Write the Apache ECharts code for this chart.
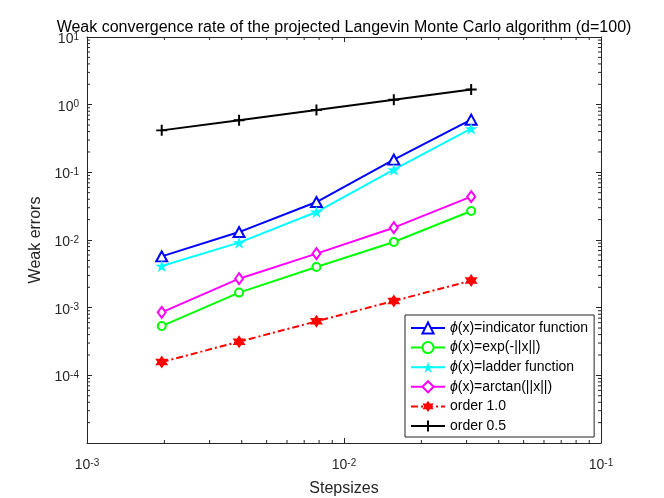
<!DOCTYPE html>
<html>
<head>
<meta charset="utf-8">
<script src="https://cdn.jsdelivr.net/npm/echarts/dist/echarts.min.js"></script>
<style>
  html, body { margin: 0; padding: 0; background: #fff; }
  #main { width: 664px; height: 498px; }
</style>
</head>
<body>
<div id="main"></div>
<script>
// step sizes h = 2^-9 ... 2^-5
const stepsizes = [0.001953125, 0.00390625, 0.0078125, 0.015625, 0.03125];

// weak errors
const indicatorErr = [5.73e-3, 1.31e-2, 3.64e-2, 0.154, 0.600];
const expErr = [5.35e-4, 1.67e-3, 3.98e-3, 9.33e-3, 2.68e-2];
const ladderErr = [4.12e-3, 9.14e-3, 2.59e-2, 0.1095, 0.442];
const arctanErr = [8.53e-4, 2.68e-3, 6.28e-3, 1.52e-2, 4.37e-2];
const order1 = [1.57e-4, 3.14e-4, 6.28e-4, 1.256e-3, 2.51e-3];
const order05 = [0.417, 0.59, 0.834, 1.18, 1.67];

const seriesNames = [
  'ϕ(x)=indicator function',
  'ϕ(x)=exp(-||x||)',
  'ϕ(x)=ladder function',
  'ϕ(x)=arctan(||x||)',
  'order 1.0',
  'order 0.5'
];

// axis ranges (decades)
const xMin = 1e-3, xMax = 1e-1;
const yMin = 1e-5, yMax = 1e1;
const minorMult = [2, 3, 4, 5, 6, 7, 8, 9];

const axisColor = '#262626';
const font = '"Liberation Sans", Arial, Helvetica, sans-serif';

// star shaped symbols
function starPath(n, inner) {
  let d = '';
  for (let i = 0; i < 2 * n; i++) {
    const r = i % 2 === 0 ? 1 : inner;
    const a = -Math.PI / 2 + i * Math.PI / n;
    d += (i === 0 ? 'M' : 'L') + (r * Math.cos(a)).toFixed(3) + ',' + (r * Math.sin(a)).toFixed(3);
  }
  return 'path://' + d + 'Z';
}
const pentagram = starPath(5, 0.382);
const hexagram = starPath(6, 0.577);
const plusSym = 'path://M-0.18,-1L0.18,-1L0.18,-0.18L1,-0.18L1,0.18L0.18,0.18L0.18,1L-0.18,1L-0.18,0.18L-1,0.18L-1,-0.18L-0.18,-0.18Z';

function pairs(ys) {
  return stepsizes.map((x, i) => [x, ys[i]]);
}

// minor tick positions inside each decade
function minorValues(lo, hi) {
  const out = [];
  for (let e = Math.round(Math.log10(lo)); e < Math.round(Math.log10(hi)); e++) {
    minorMult.forEach(m => out.push(m * Math.pow(10, e)));
  }
  return out;
}
const minorData = []
minorValues(yMin, yMax).forEach(v => minorData.push([xMin, v, 0]));
minorValues(xMin, xMax).forEach(v => minorData.push([v, yMin, 1]));

function powLabel(value) {
  const e = Math.round(Math.log10(value));
  if (value < 2e-5) return '';
  return '{b|10}{s|' + e + '}';
}
const powRich = {
  b: { fontSize: 14, lineHeight: 14, padding: [3, 0, 0, 0], verticalAlign: 'bottom', color: axisColor, fontFamily: font },
  s: { fontSize: 10, lineHeight: 10, verticalAlign: 'top', color: axisColor, fontFamily: font }
};

let myChart = echarts.init(document.getElementById('main'));

const baseSeries = {
  type: 'line',
  xAxisIndex: 0,
  yAxisIndex: 0,
  lineStyle: { width: 2 },
  animation: false
};

const option = {
  animation: false,
  backgroundColor: '#fff',
  title: {
    text: 'Weak convergence rate of the projected Langevin Monte Carlo algorithm (d=100)',
    left: 339,
    top: 15,
    textAlign: 'center',
    textStyle: { fontSize: 16, fontWeight: 'normal', color: '#000', fontFamily: font }
  },
  grid: { left: 87, right: 63, top: 37, bottom: 55, outerBoundsMode: 'none', containLabel: false },
  legend: {
    data: seriesNames,
    orient: 'vertical',
    left: 405,
    top: 315,
    width: 189,
    padding: [6, 6, 4, 5],
    itemWidth: 34,
    itemHeight: 14,
    itemGap: 5.6,
    backgroundColor: '#fff',
    borderColor: axisColor,
    borderWidth: 1,
    textStyle: {
      fontSize: 14, lineHeight: 14, color: '#000', fontFamily: font,
      rich: { p: { fontSize: 14, lineHeight: 14, fontStyle: 'italic', fontFamily: font } }
    },
    formatter: n => n.charAt(0) === 'ϕ' ? '{p|ϕ}' + n.slice(1) : n
  },
  xAxis: [
    {
      type: 'log', logBase: 10, min: xMin, max: xMax,
      name: 'Stepsizes', nameLocation: 'middle', nameGap: 38,
      nameTextStyle: { fontSize: 16, color: axisColor, fontFamily: font },
      axisLine: { lineStyle: { color: axisColor, width: 1 } },
      axisTick: { inside: true, length: 5, lineStyle: { color: axisColor } },
      axisLabel: { formatter: powLabel, rich: powRich, margin: 11, padding: [4, 0, 0, 0] },
      splitLine: { show: false }
    },
    {
      type: 'log', logBase: 10, min: xMin, max: xMax, position: 'top',
      axisLine: { lineStyle: { color: axisColor, width: 1 } },
      axisTick: { inside: true, length: 5, lineStyle: { color: axisColor } },
      axisLabel: { show: false },
      splitLine: { show: false }
    }
  ],
  yAxis: [
    {
      type: 'log', logBase: 10, min: yMin, max: yMax,
      name: 'Weak errors', nameLocation: 'middle', nameGap: 43, nameRotate: 90,
      nameTextStyle: { fontSize: 16, color: axisColor, fontFamily: font },
      axisLine: { show: true, lineStyle: { color: axisColor, width: 1 } },
      axisTick: { show: true, inside: true, length: 5, lineStyle: { color: axisColor } },
      axisLabel: { formatter: powLabel, rich: powRich, margin: 8, padding: [4, 0, 0, 0] },
      splitLine: { show: false }
    },
    {
      type: 'log', logBase: 10, min: yMin, max: yMax, position: 'right',
      axisLine: { show: true, lineStyle: { color: axisColor, width: 1 } },
      axisTick: { show: true, inside: true, length: 5, lineStyle: { color: axisColor } },
      axisLabel: { show: false },
      splitLine: { show: false }
    }
  ],
  series: [
    {
      type: 'custom',
      silent: true,
      xAxisIndex: 0,
      yAxisIndex: 0,
      data: minorData,
      z: 1,
      renderItem: function (params, api) {
        const kind = api.value(2);
        const style = { stroke: axisColor, lineWidth: 1 };
        if (kind === 0) {
          const a = api.coord([xMin, api.value(1)]);
          const b = api.coord([xMax, api.value(1)]);
          return { type: 'group', children: [
            { type: 'line', shape: { x1: a[0], y1: a[1], x2: a[0] + 3, y2: a[1] }, style: style },
            { type: 'line', shape: { x1: b[0], y1: b[1], x2: b[0] - 3, y2: b[1] }, style: style }
          ] };
        }
        const a = api.coord([api.value(0), yMin]);
        const b = api.coord([api.value(0), yMax]);
        return { type: 'group', children: [
          { type: 'line', shape: { x1: a[0], y1: a[1], x2: a[0], y2: a[1] - 3 }, style: style },
          { type: 'line', shape: { x1: b[0], y1: b[1], x2: b[0], y2: b[1] + 3 }, style: style }
        ] };
      }
    },
    Object.assign({}, baseSeries, {
      name: seriesNames[0], data: pairs(indicatorErr),
      symbol: 'emptyTriangle', symbolSize: [11, 10],
      itemStyle: { color: '#0000ff', borderWidth: 2 },
      lineStyle: { width: 2, color: '#0000ff' }
    }),
    Object.assign({}, baseSeries, {
      name: seriesNames[1], data: pairs(expErr),
      symbol: 'emptyCircle', symbolSize: 8,
      itemStyle: { color: '#00ff00', borderWidth: 2 },
      lineStyle: { width: 2, color: '#00ff00' }
    }),
    Object.assign({}, baseSeries, {
      name: seriesNames[2], data: pairs(ladderErr),
      symbol: pentagram, symbolSize: [13, 12],
      itemStyle: { color: '#00ffff' },
      lineStyle: { width: 2, color: '#00ffff' }
    }),
    Object.assign({}, baseSeries, {
      name: seriesNames[3], data: pairs(arctanErr),
      symbol: 'emptyDiamond', symbolSize: [8, 11],
      itemStyle: { color: '#ff00ff', borderWidth: 2 },
      lineStyle: { width: 2, color: '#ff00ff' }
    }),
    Object.assign({}, baseSeries, {
      name: seriesNames[4], data: pairs(order1),
      symbol: hexagram, symbolSize: [13, 13],
      itemStyle: { color: '#ff0000' },
      lineStyle: { width: 2, color: '#ff0000', type: [7, 3, 2, 3] }
    }),
    Object.assign({}, baseSeries, {
      name: seriesNames[5], data: pairs(order05),
      symbol: plusSym, symbolSize: 11,
      itemStyle: { color: '#000000' },
      lineStyle: { width: 2, color: '#000000' }
    })
  ]
};

myChart.setOption(option);

window.onresize = function () {
  myChart.resize();
};
</script>
</body>
</html>
